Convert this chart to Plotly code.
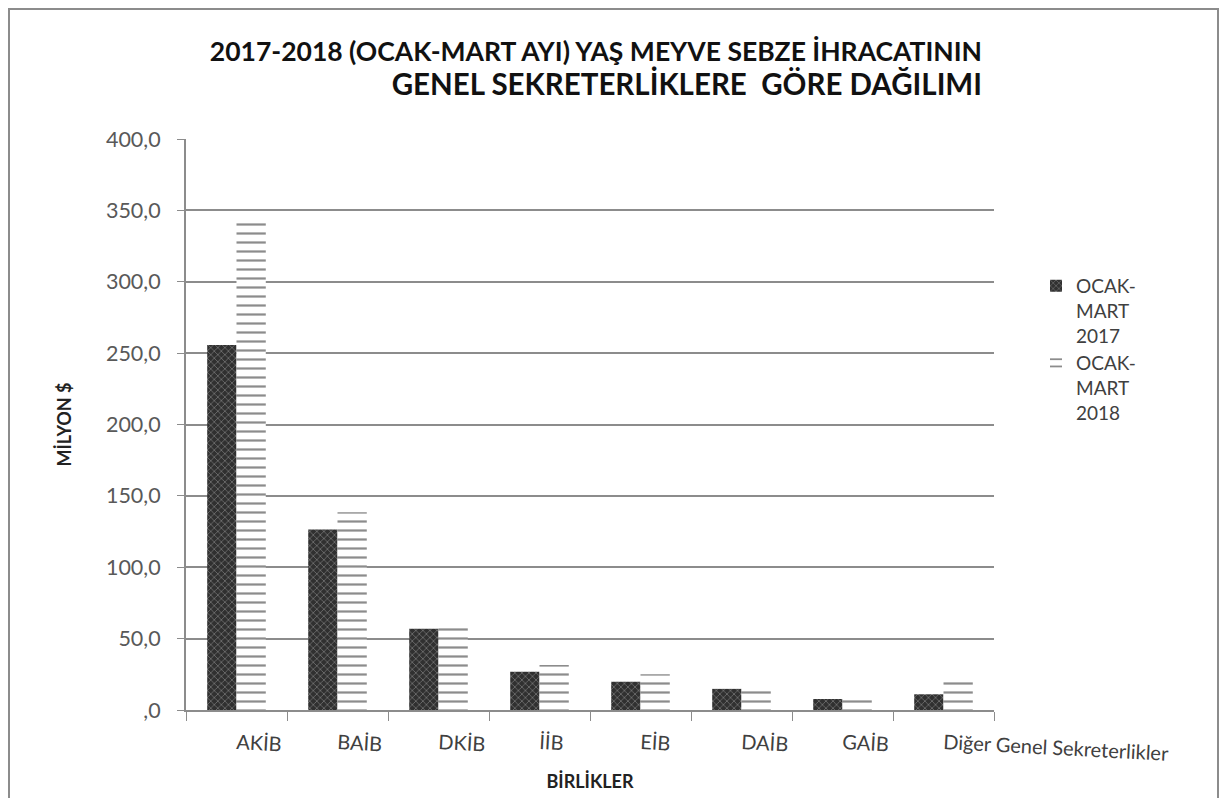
import plotly.graph_objects as go

# veriler (milyon $)
birlikler = ['AKİB', 'BAİB', 'DKİB', 'İİB', 'EİB', 'DAİB', 'GAİB',
             'Diğer Genel Sekreterlikler']
ocak_mart_2017 = [255.7, 126.5, 57.0, 26.8, 19.8, 14.8, 7.7, 11.0]
ocak_mart_2018 = [341.5, 138.5, 60.5, 31.5, 25.0, 15.0, 9.8, 21.0]

y_ticks = [0, 50, 100, 150, 200, 250, 300, 350, 400]
y_tick_text = [',0', '50,0', '100,0', '150,0', '200,0', '250,0', '300,0',
               '350,0', '400,0']

font_name = 'Lato, Open Sans, sans-serif'

fig = go.Figure()
fig.add_trace(go.Bar(
    x=birlikler, y=ocak_mart_2017, name='OCAK-<br>MART<br>2017',
    marker=dict(color='#303030', line=dict(width=0),
                pattern=dict(shape='x', fgcolor='#b0b0b0', size=5,
                             solidity=0.3))))
fig.add_trace(go.Bar(
    x=birlikler, y=ocak_mart_2018, name='OCAK-<br>MART<br>2018',
    marker=dict(color='white', line=dict(width=0),
                pattern=dict(shape='-', fgcolor='#1a1a1a', size=9,
                             solidity=0.25))))

fig.update_layout(
    width=1231, height=798,
    margin=dict(l=178, r=245, t=131, b=96),
    paper_bgcolor='white', plot_bgcolor='white',
    barmode='group', bargap=0.42, bargroupgap=0,
    font=dict(family=font_name, color='#404040'),
    title=dict(text='2017-2018 (OCAK-MART AYI) YAŞ MEYVE SEBZE İHRACATININ<br>'
                    '<span style="font-size:29.5px">GENEL SEKRETERLİKLERE  '
                    'GÖRE DAĞILIMI</span>',
               x=(982 - 8) / 1231, xanchor='right', xref='container',
               y=1 - 53 / 798, yanchor='top', yref='container',
               font=dict(size=26.5, color='#111111', family=font_name,
                         weight='bold')),
    legend=dict(x=1.052, y=0.776, xanchor='left', yanchor='top',
                valign='top',
                font=dict(size=19, color='#404040'),
                itemwidth=30, tracegroupgap=4),
    showlegend=True,
)

fig.update_xaxes(
    showline=True, linecolor='#8c8c8c', linewidth=2,
    ticks='outside', tickson='boundaries', ticklen=9, tickcolor='#8c8c8c',
    tickangle=3, ticklabelstandoff=13,
    tickfont=dict(size=20, color='#404040'),
    title=dict(text='BİRLİKLER', standoff=12,
               font=dict(size=18, color='#222222', weight='bold')),
)
fig.update_yaxes(
    range=[0, 400], tickvals=y_ticks, ticktext=y_tick_text,
    showgrid=True, gridcolor='#8c8c8c', gridwidth=1.8,
    showline=True, linecolor='#8c8c8c', linewidth=2,
    ticks='outside', ticklen=7, tickcolor='#8c8c8c',
    ticklabelstandoff=12,
    tickfont=dict(size=21.5, color='#595959'),
    title=dict(text='MİLYON $', standoff=30,
               font=dict(size=18, color='#222222', weight='bold')),
    zeroline=False,
)

# dış çerçeve
fig.add_shape(type='rect', xref='paper', yref='paper',
              x0=(1 - 178) / 808, x1=(1210 - 178) / 808,
              y0=-0.25, y1=(702 - 1) / 571,
              line=dict(color='#8c8c8c', width=2))

fig.write_html('out.html')
